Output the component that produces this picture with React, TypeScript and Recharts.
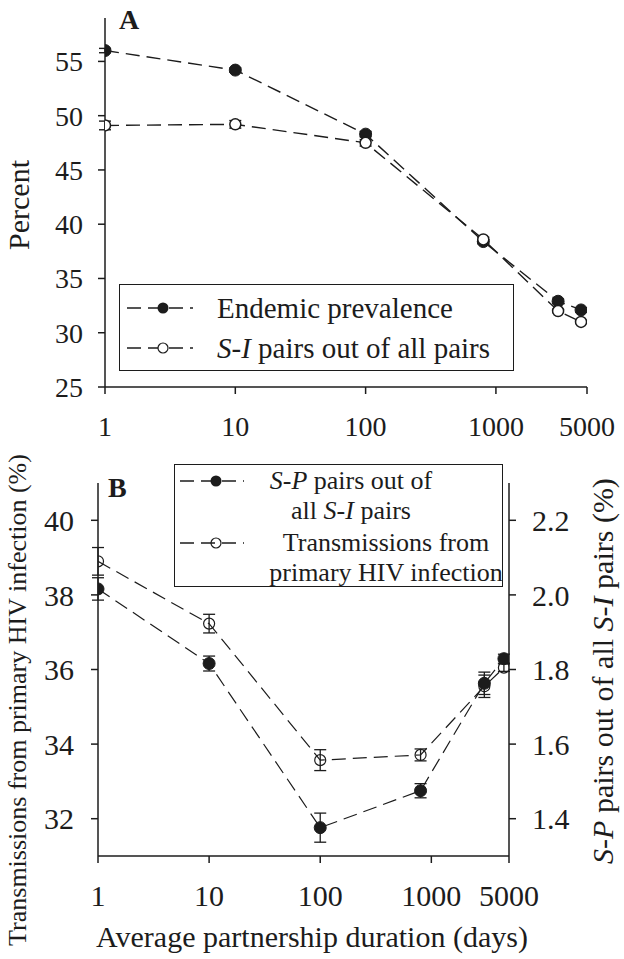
import React from "react";
import { ErrorBar, Legend, Line, LineChart, XAxis, YAxis } from "recharts";

// Partnership durations (days) shared by both panels
const durations = [1, 10, 100, 800, 3000, 4500];

// Panel A
const endemicPrevalence = [56.0, 54.2, 48.3, 38.4, 32.9, 32.1];
const endemicPrevalenceErr = [0.2, 0.2, 0.25, 0.2, 0.2, 0.2];
const siPairs = [49.1, 49.2, 47.5, 38.6, 32.0, 31.0];
const siPairsErr = [0.4, 0.35, 0.3, 0.2, 0.15, 0.15];

// Panel B
const spPairs = [2.016, 1.816, 1.376, 1.475, 1.763, 1.829]; // right axis
const spPairsErr = [0.03, 0.02, 0.039, 0.019, 0.03, 0.012];
const primaryTransmissions = [38.9, 37.23, 33.57, 33.71, 35.55, 36.05]; // left axis
const primaryTransmissionsErr = [0.37, 0.25, 0.28, 0.16, 0.3, 0.1];

const xTicks = [1, 10, 100, 1000, 5000];
const percentTicks = [25, 30, 35, 40, 45, 50, 55];
const transmissionTicks = [32, 34, 36, 38, 40];
const spTicks = [1.4, 1.6, 1.8, 2.0, 2.2];

const INK = "#1c1c1c";
const FONT = '"Liberation Serif", "Times New Roman", serif';
const DASH = "14 7";

const dataA = durations.map((d, i) => ({
  duration: d,
  endemic: endemicPrevalence[i],
  endemicErr: endemicPrevalenceErr[i],
  si: siPairs[i],
  siErr: siPairsErr[i],
}));

const dataB = durations.map((d, i) => ({
  duration: d,
  sp: spPairs[i],
  spErr: spPairsErr[i],
  primary: primaryTransmissions[i],
  primaryErr: primaryTransmissionsErr[i],
}));

function filledDot(r: number) {
  return (props: any) => (
    <circle key={`f-${props.index}`} cx={props.cx} cy={props.cy} r={r} fill={INK} stroke={INK} />
  );
}

function openDot(r: number, fill: string, sw: number) {
  return (props: any) => (
    <circle key={`o-${props.index}`} cx={props.cx} cy={props.cy} r={r} fill={fill} stroke={INK} strokeWidth={sw} />
  );
}

function LegendSymbol({ filled, width, markerX, fill }: { filled: boolean; width: number; markerX: number; fill: string }) {
  return (
    <svg width={width} height={14} style={{ display: "block" }}>
      <line x1={0} y1={7} x2={width} y2={7} stroke={INK} strokeWidth={1.4} strokeDasharray={DASH} />
      {filled ? (
        <circle cx={markerX} cy={7} r={5.5} fill={INK} />
      ) : (
        <circle cx={markerX} cy={7} r={5} fill={fill} stroke={INK} strokeWidth={1.2} />
      )}
    </svg>
  );
}

function LegendA() {
  return (
    <div
      style={{
        position: "relative",
        width: 395,
        height: 87,
        boxSizing: "border-box",
        border: `1.5px solid ${INK}`,
        background: "#fff",
        fontFamily: FONT,
        fontSize: 29,
        color: INK,
      }}
    >
      <div style={{ position: "absolute", left: 7, top: 16 }}>
        <LegendSymbol filled width={66} markerX={36} fill="#fff" />
      </div>
      <div style={{ position: "absolute", left: 97, top: 6, lineHeight: "34px", whiteSpace: "nowrap" }}>
        Endemic prevalence
      </div>
      <div style={{ position: "absolute", left: 7, top: 56 }}>
        <LegendSymbol filled={false} width={66} markerX={36} fill="#fff" />
      </div>
      <div style={{ position: "absolute", left: 97, top: 46, lineHeight: "34px", whiteSpace: "nowrap" }}>
        <i>S-I</i> pairs out of all pairs
      </div>
    </div>
  );
}

function LegendB() {
  const line = (text: React.ReactNode, cx: number, cy: number) => (
    <div
      style={{
        position: "absolute",
        left: cx,
        top: cy - 15,
        lineHeight: "30px",
        transform: "translateX(-50%)",
        whiteSpace: "nowrap",
      }}
    >
      {text}
    </div>
  );
  return (
    <div
      style={{
        position: "relative",
        width: 329,
        height: 123,
        boxSizing: "border-box",
        border: `1.5px solid ${INK}`,
        background: "#fff",
        fontFamily: FONT,
        fontSize: 26,
        color: INK,
      }}
    >
      <div style={{ position: "absolute", left: 5, top: 9 }}>
        <LegendSymbol filled width={64} markerX={36} fill="none" />
      </div>
      {line(<><i>S-P</i> pairs out of</>, 176, 16)}
      {line(<>all <i>S-I</i> pairs</>, 176, 46)}
      <div style={{ position: "absolute", left: 5, top: 71 }}>
        <LegendSymbol filled={false} width={64} markerX={36} fill="none" />
      </div>
      {line("Transmissions from", 211, 78)}
      {line("primary HIV infection", 211, 108)}
    </div>
  );
}

const tickStyle = (size: number) => ({ fill: INK, fontSize: size, fontFamily: FONT });
const axisLine = { stroke: INK, strokeWidth: 1.5 };
const tickLine = { stroke: INK, strokeWidth: 1.5 };

function PanelA() {
  return (
    <LineChart width={624} height={470} data={dataA} margin={{ top: 18, right: 37, left: 0, bottom: 33 }}>
      <XAxis
        dataKey="duration"
        type="number"
        scale="log"
        domain={[1, 5000]}
        ticks={xTicks}
        allowDataOverflow
        height={50}
        axisLine={axisLine}
        tickLine={tickLine}
        tickSize={7}
        tickMargin={22}
        tick={tickStyle(28)}
      />
      <YAxis
        type="number"
        domain={[25, 59]}
        ticks={percentTicks}
        allowDataOverflow
        width={105}
        axisLine={axisLine}
        tickLine={tickLine}
        tickSize={7}
        tickMargin={15}
        tick={tickStyle(28)}
      />
      <Legend
        layout="vertical"
        align="center"
        verticalAlign="middle"
        wrapperStyle={{ left: 119, top: 284, width: 395, height: 87 }}
        content={() => <LegendA />}
      />
      <Line
        dataKey="endemic"
        stroke={INK}
        strokeWidth={1.4}
        strokeDasharray={DASH}
        dot={filledDot(6)}
        activeDot={false}
        isAnimationActive={false}
      >
        <ErrorBar dataKey="endemicErr" direction="y" width={6} stroke={INK} strokeWidth={1.4} />
      </Line>
      <Line
        dataKey="si"
        stroke={INK}
        strokeWidth={1.4}
        strokeDasharray={DASH}
        dot={openDot(5.5, "#fff", 1.5)}
        activeDot={false}
        isAnimationActive={false}
      >
        <ErrorBar dataKey="siErr" direction="y" width={6} stroke={INK} strokeWidth={1.4} />
      </Line>
    </LineChart>
  );
}

function PanelB() {
  return (
    <LineChart width={624} height={519} data={dataB} margin={{ top: 43, right: 0, left: 0, bottom: 53 }}>
      <XAxis
        dataKey="duration"
        type="number"
        scale="log"
        domain={[1, 5000]}
        ticks={xTicks}
        allowDataOverflow
        height={50}
        axisLine={axisLine}
        tickLine={tickLine}
        tickSize={7}
        tickMargin={22}
        tick={tickStyle(30)}
      />
      <YAxis
        yAxisId="left"
        type="number"
        domain={[31, 41]}
        ticks={transmissionTicks}
        allowDataOverflow
        width={98}
        axisLine={axisLine}
        tickLine={tickLine}
        tickSize={7}
        tickMargin={17}
        tick={tickStyle(30)}
      />
      <YAxis
        yAxisId="right"
        orientation="right"
        type="number"
        domain={[1.3, 2.3]}
        ticks={spTicks}
        allowDataOverflow
        width={115}
        axisLine={axisLine}
        tickLine={tickLine}
        tickSize={7}
        tickMargin={16}
        tick={tickStyle(30)}
        tickFormatter={(v: number) => v.toFixed(1)}
      />
      <Legend
        layout="vertical"
        align="center"
        verticalAlign="middle"
        wrapperStyle={{ left: 174, top: 24, width: 329, height: 123 }}
        content={() => <LegendB />}
      />
      <Line
        yAxisId="left"
        dataKey="primary"
        stroke={INK}
        strokeWidth={1.2}
        strokeDasharray={DASH}
        dot={openDot(5.5, "none", 1.2)}
        activeDot={false}
        isAnimationActive={false}
      >
        <ErrorBar dataKey="primaryErr" direction="y" width={6} stroke={INK} strokeWidth={1.3} />
      </Line>
      <Line
        yAxisId="right"
        dataKey="sp"
        stroke={INK}
        strokeWidth={1.2}
        strokeDasharray={DASH}
        dot={filledDot(6)}
        activeDot={false}
        isAnimationActive={false}
      >
        <ErrorBar dataKey="spErr" direction="y" width={6} stroke={INK} strokeWidth={1.3} />
      </Line>
    </LineChart>
  );
}

const overlay = (style: React.CSSProperties): React.CSSProperties => ({
  position: "absolute",
  fontFamily: FONT,
  color: INK,
  whiteSpace: "nowrap",
  ...style,
});

export default function App() {
  return (
    <div style={{ position: "absolute", left: 0, top: 0, width: 624, height: 959, background: "#fff" }}>
      <div style={{ position: "absolute", left: 0, top: 0 }}>
        <PanelA />
      </div>
      <div style={{ position: "absolute", left: 0, top: 440 }}>
        <PanelB />
      </div>

      <div style={overlay({ left: 119, top: 3, fontSize: 28, fontWeight: "bold", lineHeight: "34px" })}>A</div>
      <div style={overlay({ left: 108, top: 471, fontSize: 28, fontWeight: "bold", lineHeight: "34px" })}>B</div>

      <div
        style={overlay({
          left: 19,
          top: 205,
          fontSize: 30,
          lineHeight: "34px",
          transform: "translate(-50%, -50%) rotate(-90deg)",
        })}
      >
        Percent
      </div>
      <div
        style={overlay({
          left: 18,
          top: 700,
          fontSize: 26,
          lineHeight: "30px",
          transform: "translate(-50%, -50%) rotate(-90deg)",
        })}
      >
        Transmissions from primary HIV infection (%)
      </div>
      <div
        style={overlay({
          left: 603,
          top: 671,
          fontSize: 30,
          lineHeight: "34px",
          transform: "translate(-50%, -50%) rotate(-90deg)",
        })}
      >
        <i>S-P</i> pairs out of all <i>S-I</i> pairs (%)
      </div>
      <div
        style={overlay({
          left: 312,
          top: 937,
          fontSize: 30,
          lineHeight: "34px",
          transform: "translate(-50%, -50%)",
        })}
      >
        Average partnership duration (days)
      </div>
    </div>
  );
}
